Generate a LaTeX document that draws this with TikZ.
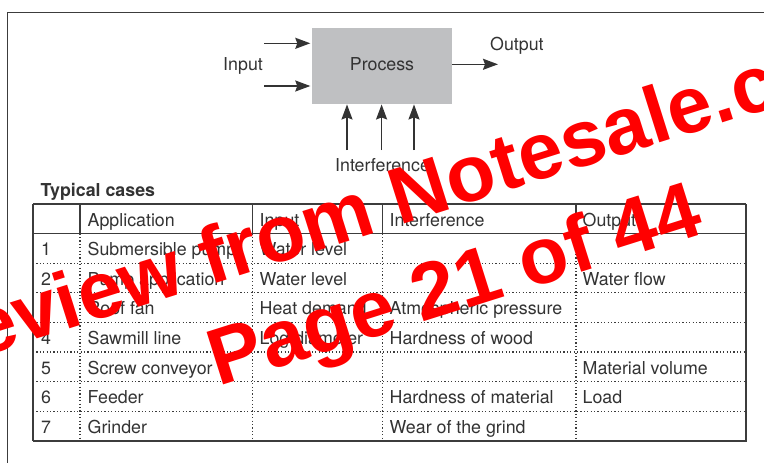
\documentclass[tikz,border=0pt]{standalone}
\usepackage{fontspec}
\setmainfont{TeX Gyre Heros}
\newfontfamily\wmfont{Liberation Sans}
\usetikzlibrary{arrows.meta}
\definecolor{ink}{HTML}{333333}
\definecolor{boxgray}{HTML}{BFC0C2}
\definecolor{framec}{HTML}{3C3C3C}
\definecolor{wmred}{HTML}{FF0000}
\begin{document}
\begin{tikzpicture}[x=1pt,y=-1pt,
  txt/.style={inner sep=0pt, anchor=base west, text=ink, font=\fontsize{17.8}{20}\selectfont},
  arr/.style={draw=ink, line width=1.6pt, -{Stealth[length=15pt,width=11pt,inset=2pt]}},
  solidline/.style={draw=framec, line width=1.2pt},
  heavyline/.style={draw=framec, line width=2pt},
  dotline/.style={draw=framec, line width=1.2pt, dash pattern=on 1.2pt off 2.2pt},
  procbox/.style={fill=boxgray, draw=none, minimum width=140pt, minimum height=75.5pt, inner sep=0pt,
    text=ink, font=\fontsize{17.8}{20}\selectfont, text depth=3.3pt},
  wm/.style={inner sep=0pt, anchor=base, text=wmred, rotate=17.5, font=\wmfont\bfseries\fontsize{80}{96}\selectfont}]
\useasboundingbox (0,0) rectangle (764,463);
\fill[white] (0,0) rectangle (764,463);
% outer frame
\draw[draw=framec, line width=1.5pt] (7.5,463) -- (7.5,12.7) -- (764,12.7);
% process diagram
\node[procbox] (proc) at (382,66) {Process};
\coordinate (i1) at (264,43.3);
\coordinate (i2) at (264,86);
\coordinate (o1) at (498,64.3);
\coordinate (f1) at (347,150);
\coordinate (f2) at (381.6,150);
\coordinate (f3) at (414,150);
\draw[arr, shorten >=1.5pt] (i1) -- (i1 -| proc.west);
\draw[arr, shorten >=1.5pt] (i2) -- (i2 -| proc.west);
\draw[arr] (o1 -| proc.east) -- (o1);
\draw[arr, shorten >=0.5pt] (f1) -- (f1 |- proc.south);
\draw[arr, shorten >=0.5pt] (f2) -- (f2 |- proc.south);
\draw[arr, shorten >=0.5pt] (f3) -- (f3 |- proc.south);
\node[txt] (lin) at (223,70.7) {Input};
\node[txt] (lout) at (490,50) {Output};
\node[txt] (lint) at (335,171.7) {Interference};
\node[txt, font=\fontsize{17.8}{20}\selectfont\bfseries] (ltc) at (40.5,196) {Typical cases};
% table lines
\draw[solidline] (33,204) -- (746,204);
\draw[solidline] (33,233.6) -- (746,233.6);
\draw[solidline] (33,204) -- (33,440.8);
\draw[heavyline] (746,204) -- (746,441.8);
\draw[heavyline] (33,441.3) -- (747,441.3);
\foreach \x in {80,252.5,382.5,576}{
  \draw[solidline] (\x,204) -- (\x,233.6);
  \draw[dotline] (\x,233.6) -- (\x,440.8);
}
\foreach \y in {263.2,292.8,322.4,352,381.6,411.2}{
  \draw[dotline] (33,\y) -- (746,\y);
}
% header
\node[txt] (hA) at (87.5,226.1) {Application};
\node[txt] (hI) at (259.5,226.1) {Input};
\node[txt] (hF) at (389.5,226.1) {Interference};
\node[txt] (hO) at (582.5,226.1) {Output};
% rows
\node[txt] (n1) at (41,255.7) {1};
\node[txt] (a1) at (87.5,255.7) {Submersible pump};
\node[txt] (b1) at (259.5,255.7) {Water level};
\node[txt] (n2) at (41,285.3) {2};
\node[txt] (a2) at (87.5,285.3) {Pump application};
\node[txt] (b2) at (259.5,285.3) {Water level};
\node[txt] (d2) at (582.5,285.3) {Water flow};
\node[txt] (n3) at (41,314.9) {3};
\node[txt] (a3) at (87.5,314.9) {Roof fan};
\node[txt] (b3) at (259.5,314.9) {Heat demand};
\node[txt] (c3) at (389.5,314.9) {Atmospheric pressure};
\node[txt] (n4) at (41,344.5) {4};
\node[txt] (a4) at (87.5,344.5) {Sawmill line};
\node[txt] (b4) at (259.5,344.5) {Log diameter};
\node[txt] (c4) at (389.5,344.5) {Hardness of wood};
\node[txt] (n5) at (41,374.1) {5};
\node[txt] (a5) at (87.5,374.1) {Screw conveyor};
\node[txt] (d5) at (582.5,374.1) {Material volume};
\node[txt] (n6) at (41,403.7) {6};
\node[txt] (a6) at (87.5,403.7) {Feeder};
\node[txt] (c6) at (389.5,403.7) {Hardness of material};
\node[txt] (d6) at (582.5,403.7) {Load};
\node[txt] (n7) at (41,433.3) {7};
\node[txt] (a7) at (87.5,433.3) {Grinder};
\node[txt] (c7) at (389.5,433.3) {Wear of the grind};
% watermark
\node[wm] (wm1) at (419,219) {Preview from Notesale.co.uk};
\node[wm] (wm2) at (462,310) {Page 21 of 44};
\end{tikzpicture}
\end{document}
